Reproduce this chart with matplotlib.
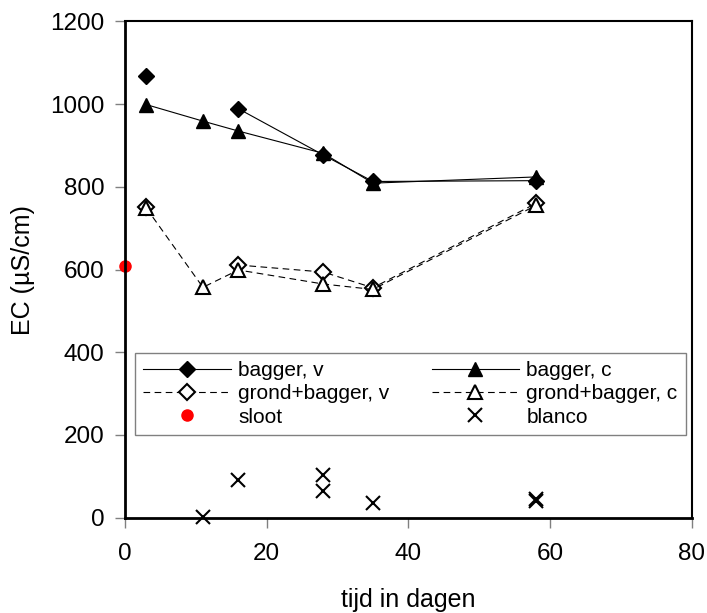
import numpy as np
import matplotlib
matplotlib.use('Agg')
import matplotlib.pyplot as plt

plt.rcParams['font.family'] = ['Liberation Sans', 'DejaVu Sans']

# EC measurements (µS/cm) per day; nan = not measured
days = [3, 11, 16, 28, 35, 58]
bagger_v = [1067, np.nan, 989, 877, 813, 815]
bagger_c = [999, 959, 935, 881, 809, 824]
grond_bagger_v = [752, np.nan, 611, 594, 556, 760]
grond_bagger_c = [749, 557, 599, 565, 552, 755]

sloot_days = [0]
sloot = [609]

blanco_days = [11, 16, 28, 28, 35, 58, 58]
blanco = [1, 91, 104, 64, 36, 40, 45]

fig = plt.figure(figsize=(7.07, 6.13), dpi=100)
ax = fig.add_axes([0.1768, 0.1555, 0.8016, 0.8095])

ax.plot(days, bagger_v, '-', color='black', lw=0.8, marker='D', ms=8,
        mfc='black', mec='black', label='bagger, v')
ax.plot(days, bagger_c, '-', color='black', lw=0.8, marker='^', ms=9.5,
        mfc='black', mec='black', label='bagger, c')
ax.plot(days, grond_bagger_v, '--', color='black', lw=0.8, dashes=(6, 4),
        marker='D', ms=8, mfc='white', mec='black', mew=1.5, label='grond+bagger, v')
ax.plot(days, grond_bagger_c, '--', color='black', lw=0.8, dashes=(6, 4),
        marker='^', ms=9.5, mfc='white', mec='black', mew=1.5, label='grond+bagger, c')
ax.plot(sloot_days, sloot, 'o', color='#ff0000', ms=8, ls='none', label='sloot', clip_on=False)
ax.plot(blanco_days, blanco, 'x', color='black', ms=10, mew=1.5, ls='none',
        label='blanco', clip_on=False)

ax.set_xlim(0, 80)
ax.set_ylim(0, 1200)
ax.set_xticks([0, 20, 40, 60, 80])
ax.set_yticks([0, 200, 400, 600, 800, 1000, 1200])
ax.tick_params(direction='out', length=7, width=1, color='#808080',
               labelsize=17.5)
ax.tick_params(axis='x', pad=11)
ax.tick_params(axis='y', pad=8)
for side in ['left', 'bottom']:
    ax.spines[side].set_linewidth(2)
for side in ['top', 'right']:
    ax.spines[side].set_linewidth(1.5)

ax.set_xlabel('tijd in dagen', fontsize=18, labelpad=17)
ax.set_ylabel('EC (µS/cm)', fontsize=18, labelpad=11)

# legend order: row-wise in two columns
handles, labels = ax.get_legend_handles_labels()
order = [0, 2, 4, 1, 3, 5]
leg = ax.legend([handles[i] for i in order], [labels[i] for i in order],
                ncol=2, loc='upper left', bbox_to_anchor=(0.0176, 0.175, 0.972, 0.157),
                mode='expand', fontsize=15, frameon=True, fancybox=False,
                framealpha=1, handlelength=4.2, numpoints=1, labelspacing=0.2,
                borderpad=0.4, handletextpad=0.35, borderaxespad=0)
leg.get_frame().set_edgecolor('#808080')
leg.get_frame().set_linewidth(1)

fig.savefig('out.png', dpi=100)
